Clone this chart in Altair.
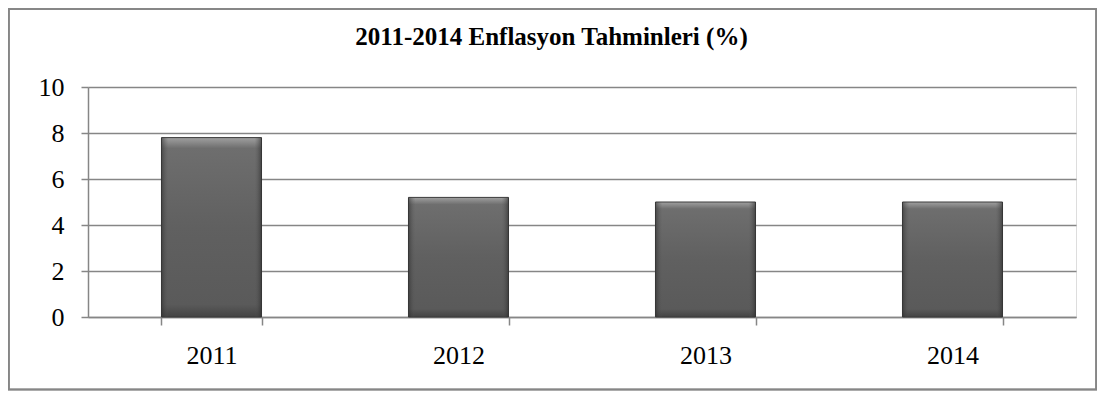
import altair as alt
import pandas as pd

years = ["2011", "2012", "2013", "2014"]
values = [7.8, 5.2, 5.0, 5.0]
y_ticks = [0, 2, 4, 6, 8, 10]
title_text = "2011-2014 Enflasyon Tahminleri (%)"

df = pd.DataFrame({"year": years, "value": values})

W, H = 988, 230
FONT = "Liberation Serif"

x_enc = alt.X(
    "year:N",
    sort=years,
    scale=alt.Scale(paddingInner=0.595, paddingOuter=0.2975),
    axis=alt.Axis(
        title=None, labelAngle=0, labelFont=FONT, labelFontSize=26, labelColor="#000000",
        labelPadding=17, tickBand="extent", tickSize=8, tickColor="#868686", tickWidth=1.5,
        domainColor="#868686", domainWidth=1.5, grid=False,
    ),
)
y_enc = alt.Y(
    "value:Q",
    scale=alt.Scale(domain=[0, 10], nice=False),
    axis=alt.Axis(
        title=None, values=y_ticks, labelFont=FONT, labelFontSize=26, labelColor="#000000",
        labelPadding=17, tickSize=7, tickColor="#868686", tickWidth=1.5,
        domainColor="#868686", domainWidth=1.5, gridColor="#868686", gridWidth=1.5,
    ),
)

vert = alt.LinearGradient(
    gradient="linear", x1=0, x2=0, y1=0, y2=1,
    stops=[
        alt.GradientStop(color="#a0a0a0", offset=0),
        alt.GradientStop(color="#6e6e6e", offset=0.06),
        alt.GradientStop(color="#606060", offset=0.5),
        alt.GradientStop(color="#5a5a5a", offset=0.93),
        alt.GradientStop(color="#444444", offset=1),
    ],
)
horiz = alt.LinearGradient(
    gradient="linear", x1=0, x2=1, y1=0, y2=0,
    stops=[
        alt.GradientStop(color="rgba(40,40,40,0.55)", offset=0),
        alt.GradientStop(color="rgba(90,90,90,0)", offset=0.07),
        alt.GradientStop(color="rgba(90,90,90,0)", offset=0.93),
        alt.GradientStop(color="rgba(40,40,40,0.6)", offset=1),
    ],
)

bars = alt.Chart(df).mark_bar(color=vert, stroke="#3a3a3a", strokeWidth=1).encode(x=x_enc, y=y_enc)
bars2 = alt.Chart(df).mark_bar(color=horiz).encode(x=alt.X("year:N", sort=years), y="value:Q")

border = alt.Chart(df).mark_rect(
    fill=None, stroke="#868686", strokeWidth=1.5, clip=False
).encode(
    x=alt.value(-79.25), x2=alt.value(1008.25), y=alt.value(-78), y2=alt.value(302.5)
)

title = alt.Chart(pd.DataFrame({"t": [title_text]})).mark_text(
    font=FONT, fontSize=25, fontWeight="bold", color="#000000", baseline="alphabetic", align="center"
).encode(text="t:N", x=alt.value(463.5), y=alt.value(-42))

chart = alt.layer(border, bars, bars2, title).properties(
    width=W, height=H,
    autosize=alt.AutoSizeParams(type="none"),
    padding={"left": 80, "top": 79, "right": 21, "bottom": 74},
).configure_view(stroke=None).configure(background="white")

chart.save("out.html", embed_options={"renderer": "svg", "actions": False})
